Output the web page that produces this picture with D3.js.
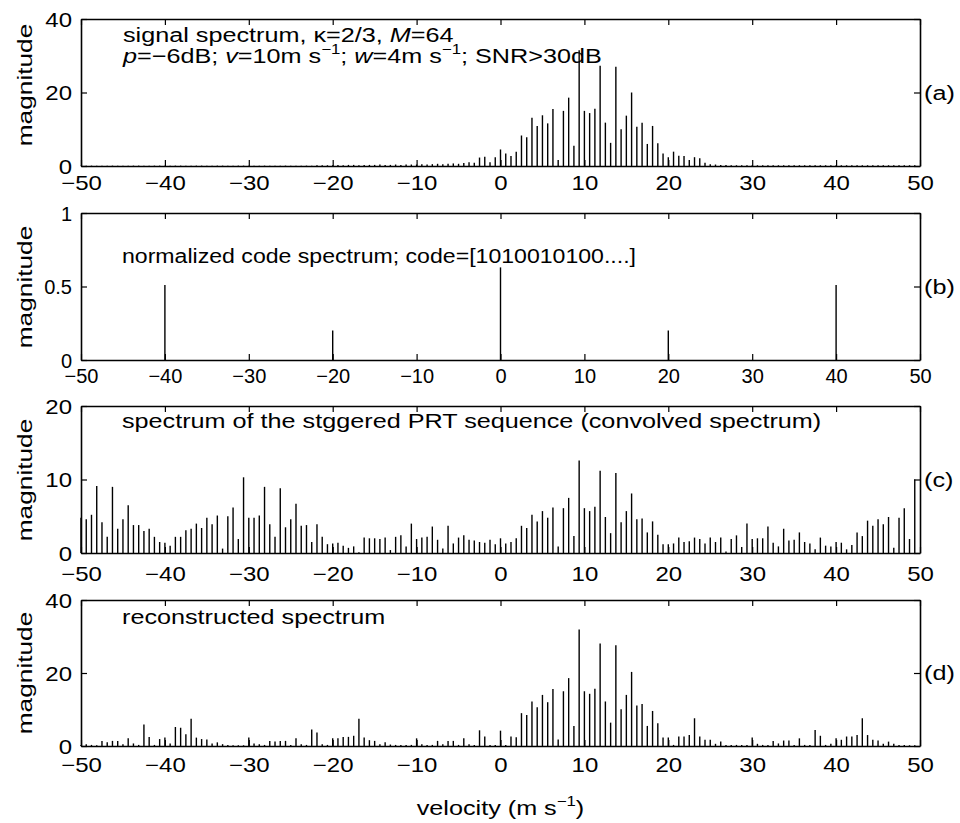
<!DOCTYPE html>
<html>
<head>
<meta charset="UTF-8" />
<title>Staggered PRT spectra</title>
<script src="https://cdn.jsdelivr.net/npm/d3@7"></script>
<style>
  body { margin: 0; background: #fff; }
  svg { display: block; background: #fff; }
  text { font-family: "Liberation Sans", Arial, Helvetica, sans-serif; fill: #000; }
  .stem { stroke: #000; stroke-width: 1.4; }
  .axis path { stroke: #000; stroke-width: 1.6; }
  .axis line { stroke: #000; stroke-width: 1.2; }
</style>
</head>
<body>
<div id="chart"></div>
<script>
// velocity bins: 160 bins over the 100 m/s unambiguous interval
const binWidth = 0.625;
const velocities = d3.range(160).map(k => -50 + k * binWidth);
const xTicks = [-50, -40, -30, -20, -10, 0, 10, 20, 30, 40, 50];

// (a) signal spectrum
const signalSpectrum = [
  0.1,0.1,0.1,0.1,0.1,0.1,0.1,0.1,0.1,0.1,0.1,0.1,0.1,0.1,0.1,0.1,
  0.1,0.1,0.1,0.1,0.1,0.1,0.1,0.1,0.1,0.1,0.1,0.1,0.1,0.1,0.1,0.1,
  0.1,0.1,0.1,0.1,0.1,0.1,0.1,0.1,0.1,0.1,0.1,0.1,0.1,0.2,0.2,0.2,
  0.2,0.3,0.2,0.3,0.3,0.2,0.3,0.3,0.3,0.4,0.3,0.3,0.4,0.3,0.4,0.4,
  0.4,0.5,0.4,0.5,0.6,0.5,0.6,0.7,0.6,0.8,1.0,0.9,2.3,2.5,1.0,2.4,
  4.5,3.4,2.7,3.9,8.3,7.8,13.1,10.9,13.8,11.6,15.5,1.6,15.0,18.6,5.5,31.5,
  15.0,14.4,15.6,27.3,11.8,6.3,27.0,10.0,13.7,20.0,10.7,11.8,6.0,10.9,6.2,3.4,
  2.4,3.9,2.8,2.7,1.6,2.4,2.1,0.9,0.5,0.4,0.3,0.3,0.2,0.2,0.2,0.2,
  0.2,0.2,0.2,0.2,0.2,0.2,0.2,0.2,0.2,0.2,0.2,0.2,0.2,0.2,0.2,0.2,
  0.2,0.2,0.2,0.2,0.2,0.2,0.2,0.2,0.2,0.2,0.2,0.2,0.2,0.2,0.2,0.2
];

// (b) normalized code spectrum, code = [1010010100....]
const codeLines = [-40, -20, 0, 20, 40];
const codeMagnitude = [0.51, 0.2, 0.63, 0.2, 0.51];

// (c) convolved spectrum of the staggered PRT sequence
const convolvedSpectrum = [
  4.8,4.6,5.2,9.1,4.2,2.2,9.0,3.3,4.6,6.5,3.8,3.8,3.0,3.3,2.2,1.5,
  1.4,1.0,2.2,2.2,3.1,3.3,4.0,3.4,4.8,3.9,5.1,0.6,5.0,6.2,1.9,10.3,
  4.8,4.8,5.1,9.0,3.9,2.2,8.8,3.5,4.6,6.7,3.7,3.8,1.5,3.9,2.2,1.2,
  1.3,1.4,1.0,0.7,0.9,0.1,2.1,2.0,2.0,1.9,2.1,0.4,2.2,2.4,0.9,4.0,
  1.9,2.1,2.2,3.6,1.8,0.6,3.7,1.3,2.1,2.4,1.8,1.7,1.5,1.4,1.8,1.2,
  2.0,1.3,1.5,2.0,3.7,3.4,5.2,4.3,5.7,4.8,6.2,0.9,6.1,7.5,2.3,12.6,
  6.1,5.7,6.3,11.2,4.9,2.7,10.9,4.2,5.7,8.1,4.6,4.7,2.8,4.3,2.5,1.2,
  1.2,1.3,2.1,1.5,1.6,2.1,1.9,1.3,2.1,1.5,2.1,0.2,1.9,2.4,0.8,4.0,
  1.9,2.0,2.0,3.6,1.4,0.9,3.3,1.7,1.8,2.8,1.5,1.3,0.5,2.1,1.0,0.9,
  1.5,1.4,0.5,1.1,2.8,2.3,4.4,3.7,4.6,3.9,4.9,0.7,4.8,6.1,1.9,10.0
];

// (d) reconstructed spectrum
const reconstructedSpectrum = [
  0.3,0.5,0.3,0.2,1.4,1.0,1.4,1.4,0.5,2.1,0.7,0.3,5.9,2.5,0.3,1.9,
  2.3,0.7,5.2,5.0,3.2,7.5,2.3,1.9,1.8,0.7,1.0,0.5,0.3,0.2,0.2,0.2,
  2.3,0.7,0.5,0.3,1.4,1.2,1.4,1.4,0.3,2.1,0.5,0.3,4.5,3.7,0.5,0.3,
  2.1,2.1,2.5,2.5,2.8,7.5,2.3,1.6,1.4,0.5,1.0,0.4,0.3,0.3,0.3,0.3,
  2.1,0.5,0.3,0.3,1.4,0.5,1.4,1.4,0.3,2.1,0.5,0.3,4.3,2.6,0.3,0.3,
  4.2,0.3,2.6,2.4,9.0,8.5,12.2,10.6,14.0,12.0,15.6,1.8,15.0,18.6,5.5,31.9,
  15.0,14.3,15.7,28.1,12.2,6.4,27.6,10.1,14.0,20.3,11.1,11.5,5.5,9.6,6.2,2.3,
  2.3,0.3,2.6,2.6,3.0,7.6,2.6,1.7,1.7,0.6,1.2,0.3,0.3,0.3,0.3,0.3,
  2.3,0.6,0.3,0.3,1.4,0.7,1.5,1.5,0.3,2.1,0.3,0.3,4.4,2.8,0.3,0.6,
  2.1,1.7,2.6,2.6,3.0,7.6,3.0,1.7,1.5,0.6,1.2,0.6,0.3,0.3,0.2,0.2
];

const width = 960, height = 823;
const svg = d3.select("#chart").append("svg")
    .attr("width", width)
    .attr("height", height);

const x = d3.scaleLinear().domain([-50, 50]).range([81, 920]);

const asStems = vals => vals.map((m, k) => ({ v: velocities[k], m: m }));

const panels = [
  { top: 19,  bottom: 166, max: 40, ticks: [0, 20, 40],  mid: 20,  tag: "(a)", lab: 24, ylab: 85,
    data: asStems(signalSpectrum), sx: 1.2 },
  { top: 213, bottom: 360, max: 1,  ticks: [0, 0.5, 1],  mid: 0.5, tag: "(b)", lab: 23, ylab: 287,
    data: codeLines.map((v, i) => ({ v: v, m: codeMagnitude[i] })), sx: 1.0 },
  { top: 406, bottom: 553, max: 20, ticks: [0, 10, 20],  mid: 10,  tag: "(c)", lab: 28, ylab: 480,
    data: asStems(convolvedSpectrum), sx: 1.2 },
  { top: 600, bottom: 746, max: 40, ticks: [0, 20, 40],  mid: 20,  tag: "(d)", lab: 26, ylab: 673,
    data: asStems(reconstructedSpectrum), sx: 1.2 }
];

function addText(parent, px, py, size, sx) {
  return parent.append("text")
    .attr("transform", `translate(${px},${py}) scale(${sx},1)`)
    .style("font-size", size + "px");
}

panels.forEach(p => {
  const y = d3.scaleLinear().domain([0, p.max]).range([p.bottom, p.top]);
  const g = svg.append("g");

  // stems
  g.append("g").selectAll("line")
    .data(p.data)
    .enter()
    .append("line")
    .attr("class", "stem")
    .attr("x1", d => x(d.v))
    .attr("x2", d => x(d.v))
    .attr("y1", y(0))
    .attr("y2", d => y(d.m));

  // box axes, ticks inward
  const fmt = d3.format("~g");
  const bottomAxis = g.append("g").attr("class", "axis")
    .attr("transform", `translate(0,${p.bottom})`)
    .call(d3.axisBottom(x).tickValues(xTicks).tickSize(-6).tickSizeOuter(0).tickFormat(d3.format("d")));
  bottomAxis.selectAll("text")
    .attr("y", p.lab).attr("dy", null)
    .attr("transform", `scale(${p.sx},1)`)
    .style("font-size", "20px");

  g.append("g").attr("class", "axis")
    .attr("transform", `translate(0,${p.top})`)
    .call(d3.axisTop(x).tickValues(xTicks).tickSize(-6).tickSizeOuter(0).tickFormat(""));

  const leftAxis = g.append("g").attr("class", "axis")
    .attr("transform", `translate(${x(-50)},0)`)
    .call(d3.axisLeft(y).tickValues(p.ticks).tickSize(-6).tickSizeOuter(0).tickFormat(fmt));
  leftAxis.selectAll("text")
    .attr("x", -9 / p.sx).attr("dy", "0.36em")
    .attr("transform", `scale(${p.sx},1)`)
    .style("font-size", "20px");

  g.append("g").attr("class", "axis")
    .attr("transform", `translate(${x(50)},0)`)
    .call(d3.axisRight(y).tickValues(p.ticks).tickSize(-6).tickSizeOuter(0).tickFormat(""));

  g.selectAll(".axis text").attr("fill", "#000");

  // y label
  g.append("text")
    .attr("transform", `translate(32,${p.ylab}) rotate(-90) scale(1.25,1)`)
    .attr("text-anchor", "middle")
    .style("font-size", "21px")
    .text("magnitude");

  // panel tag
  addText(g, 924, y(p.mid) + 7, 21, 1.2).text(p.tag);
});

// annotations
const t1 = addText(svg, 123, 42, 21, 1.2);
t1.append("tspan").text("signal spectrum, \u03ba=2/3, ");
t1.append("tspan").style("font-style", "italic").text("M");
t1.append("tspan").text("=64");

const t2 = addText(svg, 123, 63, 21, 1.2);
t2.append("tspan").style("font-style", "italic").text("p");
t2.append("tspan").text("=\u22126dB; ");
t2.append("tspan").style("font-style", "italic").text("v");
t2.append("tspan").text("=10m s");
t2.append("tspan").attr("dy", -9).style("font-size", "14px").text("\u22121");
t2.append("tspan").attr("dy", 9).text("; ");
t2.append("tspan").style("font-style", "italic").text("w");
t2.append("tspan").text("=4m s");
t2.append("tspan").attr("dy", -9).style("font-size", "14px").text("\u22121");
t2.append("tspan").attr("dy", 9).text("; SNR>30dB");

addText(svg, 122, 263, 21, 1.1).text("normalized code spectrum; code=[1010010100....]");
addText(svg, 122, 428, 21, 1.2).text("spectrum of the stggered PRT sequence (convolved spectrum)");
addText(svg, 122, 624, 21, 1.2).text("reconstructed spectrum");

// x label
const xl = svg.append("text")
  .attr("transform", `translate(${x(0)},815) scale(1.2,1)`)
  .attr("text-anchor", "middle")
  .style("font-size", "21px");
xl.append("tspan").text("velocity (m s");
xl.append("tspan").attr("dy", -9).style("font-size", "14px").text("\u22121");
xl.append("tspan").attr("dy", 9).text(")");
</script>
</body>
</html>
